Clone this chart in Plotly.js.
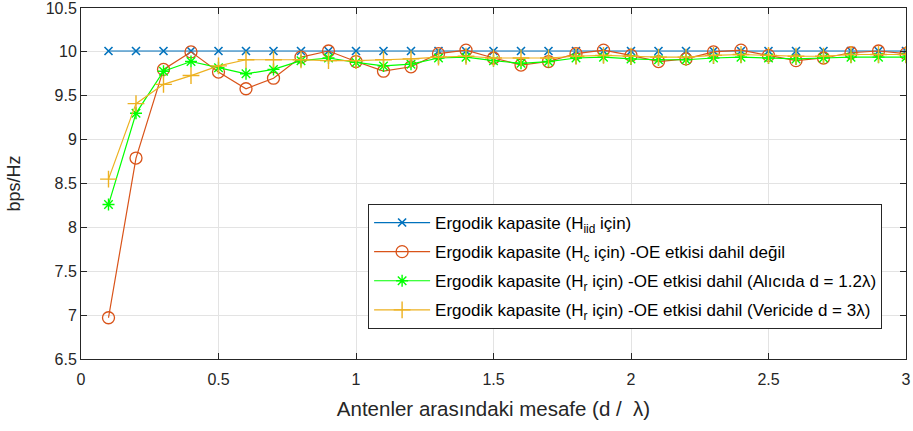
<!DOCTYPE html>
<html>
<head>
<meta charset="utf-8">
<script src="https://cdn.plot.ly/plotly-3.0.1.min.js"></script>
<style>html,body{margin:0;padding:0;background:#fff;}#chart{width:913px;height:431px;}</style>
</head>
<body>
<div id="chart"></div>
<script>
var distance = [0.1,0.2,0.3,0.4,0.5,0.6,0.7,0.8,0.9,1.0,1.1,1.2,1.3,1.4,1.5,1.6,1.7,1.8,1.9,2.0,2.1,2.2,2.3,2.4,2.5,2.6,2.7,2.8,2.9,3.0];
var capIid = [10.01,10.01,10.01,10.01,10.01,10.01,10.01,10.01,10.01,10.01,10.01,10.01,10.01,10.01,10.01,10.01,10.01,10.01,10.01,10.01,10.01,10.01,10.01,10.01,10.01,10.01,10.01,10.01,10.01,10.01];
var capHc = [6.97,8.79,9.80,10.00,9.77,9.58,9.70,9.94,10.01,9.89,9.78,9.83,9.98,10.02,9.93,9.85,9.89,9.98,10.02,9.96,9.89,9.92,10.00,10.02,9.96,9.90,9.93,9.99,10.01,9.98];
var capHrRx = [8.26,9.30,9.78,9.89,9.82,9.75,9.80,9.90,9.93,9.88,9.84,9.86,9.93,9.94,9.90,9.87,9.89,9.93,9.94,9.92,9.91,9.91,9.93,9.94,9.93,9.92,9.93,9.94,9.94,9.94];
var capHrTx = [8.55,9.41,9.63,9.73,9.84,9.91,9.91,9.91,9.90,9.90,9.91,9.92,9.94,9.95,9.93,9.93,9.93,9.95,9.96,9.95,9.94,9.94,9.96,9.97,9.96,9.95,9.95,9.97,9.97,9.97];
var seriesNames = [
  'Ergodik kapasite (H<sub>iid</sub> için)',
  'Ergodik kapasite (H<sub>c</sub> için) -OE etkisi dahil değil',
  'Ergodik kapasite (H<sub>r</sub> için) -OE etkisi dahil (Alıcıda d = 1.2λ)',
  'Ergodik kapasite (H<sub>r</sub> için) -OE etkisi dahil (Vericide d = 3λ)'
];
var xTicks = [0,0.5,1,1.5,2,2.5,3];
var yTicks = [6.5,7,7.5,8,8.5,9,9.5,10,10.5];

var traces = [
  {x: distance, y: capIid, name: seriesNames[0], legendgroup: 'a', mode: 'lines+markers',
   line: {color: '#0072BD', width: 1.2},
   marker: {symbol: 'x-thin-open', size: 8, color: '#0072BD', line: {color: '#0072BD', width: 1.6}}},
  {x: distance, y: capHc, name: seriesNames[1], legendgroup: 'b', mode: 'lines+markers',
   line: {color: '#D95319', width: 1.2},
   marker: {symbol: 'circle-open', size: 12, color: '#D95319', line: {color: '#D95319', width: 1.3}}},
  {x: distance, y: capHrRx, name: seriesNames[2], legendgroup: 'c', mode: 'lines+markers',
   line: {color: '#00FF00', width: 1.2},
   marker: {symbol: 'asterisk-open', size: 10, color: '#00FF00', line: {color: '#00FF00', width: 1.4}}},
  {x: distance, y: capHrTx, name: seriesNames[3], legendgroup: 'd', mode: 'lines+markers',
   line: {color: '#EDB120', width: 1.2},
   marker: {symbol: 'cross-thin-open', size: 12, color: '#EDB120', line: {color: '#EDB120', width: 1.4}}}
];

var layout = {
  width: 913, height: 431,
  margin: {l: 81, r: 7, t: 8, b: 72},
  paper_bgcolor: '#ffffff', plot_bgcolor: '#ffffff',
  font: {family: 'Liberation Sans, Arial, sans-serif', size: 16, color: '#262626'},
  showlegend: true,
  xaxis: {
    range: [0, 3], tickvals: xTicks, ticktext: xTicks.map(String),
    showgrid: true, gridcolor: '#e3e3e3', gridwidth: 1, zeroline: false,
    showline: true, linecolor: '#262626', linewidth: 1, mirror: 'ticks',
    ticks: 'inside', ticklen: 6, tickcolor: '#262626',
    tickfont: {size: 16, color: '#262626'}, ticklabelstandoff: 6,
    title: {text: 'Antenler arasındaki mesafe (d /  λ)', font: {size: 20.5, color: '#262626'}, standoff: 14}
  },
  yaxis: {
    range: [6.5, 10.5], tickvals: yTicks, ticktext: yTicks.map(String),
    showgrid: true, gridcolor: '#e3e3e3', gridwidth: 1, zeroline: false,
    showline: true, linecolor: '#262626', linewidth: 1, mirror: 'ticks',
    ticks: 'inside', ticklen: 6, tickcolor: '#262626',
    tickfont: {size: 16, color: '#262626'},
    ticklabeloverflow: 'allow',
    title: {text: 'bps/Hz', font: {size: 18, color: '#262626'}, standoff: 20}
  },
  legend: {
    x: 0.348, xanchor: 'left', y: 0.4416, yanchor: 'top',
    bgcolor: '#ffffff', bordercolor: '#262626', borderwidth: 1,
    font: {size: 17, color: '#000000'}, tracegroupgap: 4, itemwidth: 56,
    traceorder: 'grouped'
  }
};

Plotly.newPlot('chart', traces, layout, {displayModeBar: false, staticPlot: true});
</script>
</body>
</html>
